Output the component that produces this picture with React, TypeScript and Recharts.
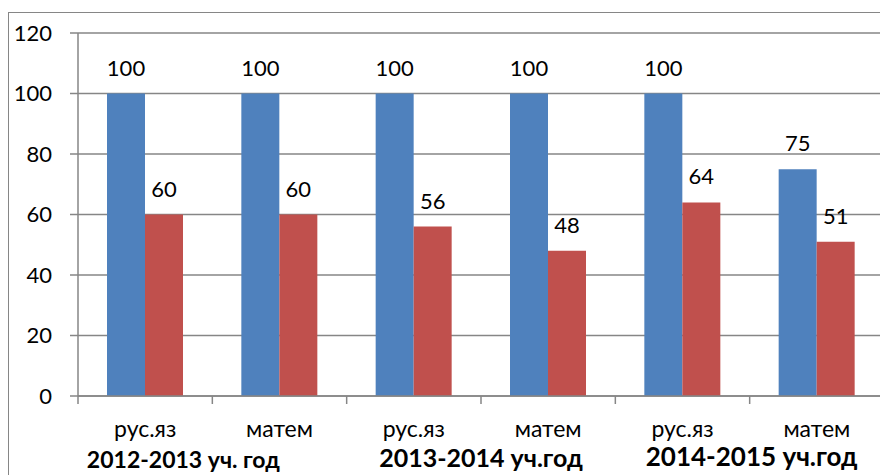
import React from 'react';
import { BarChart, Bar, XAxis, YAxis, CartesianGrid, LabelList } from 'recharts';

const categories = ['рус.яз', 'матем', 'рус.яз', 'матем', 'рус.яз', 'матем'];
const blueValues = [100, 100, 100, 100, 100, 75];
const redValues = [60, 60, 56, 48, 64, 51];
const yearLabels = ['2012-2013 уч. год', '2013-2014 уч.год', '2014-2015 уч.год'];
const yTicks = [0, 20, 40, 60, 80, 100, 120];

const yearStyles = [
  { fontSize: 23, dx: -29, dy: 72 },
  { fontSize: 25, dx: 0, dy: 71 },
  { fontSize: 26, dx: 2, dy: 70 },
];

const data = categories.map((c, i) => ({ name: c, a: blueValues[i], b: redValues[i] }));

const W = 880;
const H = 467;
const M = { top: 25, right: 4, left: 0, bottom: 0 };
const Y_W = 70;
const X_H = 79;
const GRAY = '#868686';
const FONT = 'Lato, "Open Sans", sans-serif';
const band = (W - M.left - M.right - Y_W) / categories.length;

const XTick = (props: any) => {
  const { x, y, payload, index } = props;
  const i = typeof index === 'number' ? index : payload.index;
  const ys = i % 2 === 1 ? yearStyles[(i - 1) / 2] : null;
  return (
    <g>
      <line x1={x - band / 2} x2={x - band / 2} y1={y} y2={y + 8} stroke={GRAY} strokeWidth={1.5} />
      {i === categories.length - 1 && (
        <line x1={x + band / 2} x2={x + band / 2} y1={y} y2={y + 8} stroke={GRAY} strokeWidth={1.5} />
      )}
      <text x={x} y={y + 41} textAnchor="middle" fontSize={23} fill="#000" fontFamily={FONT}>
        {payload.value}
      </text>
      {ys && (
        <text
          x={x - band / 2 + ys.dx}
          y={y + ys.dy}
          textAnchor="middle"
          fontSize={ys.fontSize}
          fontWeight="bold"
          fill="#000"
          fontFamily={FONT}
        >
          {yearLabels[(i - 1) / 2]}
        </text>
      )}
    </g>
  );
};

export default function App() {
  return (
    <div style={{ position: 'relative', width: W, height: H }}>
      <div
        style={{
          position: 'absolute',
          left: 0,
          top: 4,
          width: W,
          height: H - 4,
          borderLeft: `1.5px solid ${GRAY}`,
          borderTop: `1.5px solid ${GRAY}`,
          boxSizing: 'border-box',
        }}
      />
      <div style={{ position: 'absolute', left: 0, top: 0 }}>
        <BarChart width={W} height={H} data={data} margin={M} barGap={0} barSize={38}>
          <CartesianGrid vertical={false} stroke={GRAY} strokeWidth={1.5} />
          <XAxis
            dataKey="name"
            height={X_H}
            axisLine={{ stroke: GRAY, strokeWidth: 1.5 }}
            tickLine={false}
            tickSize={0}
            tickMargin={0}
            interval={0}
            tick={<XTick />}
          />
          <YAxis
            width={Y_W}
            domain={[0, 120]}
            ticks={yTicks}
            interval={0}
            axisLine={{ stroke: GRAY, strokeWidth: 1.5 }}
            tickLine={{ stroke: GRAY, strokeWidth: 1.5 }}
            tickSize={8}
            tickMargin={18}
            tick={{ fontSize: 22, fill: '#000', fontFamily: FONT }}
          />
          <Bar dataKey="a" fill="#4F81BD" isAnimationActive={false}>
            <LabelList dataKey="a" position="top" offset={18} fontSize={22} fill="#000" fontFamily={FONT} />
          </Bar>
          <Bar dataKey="b" fill="#C0504D" isAnimationActive={false}>
            <LabelList dataKey="b" position="top" offset={18} fontSize={22} fill="#000" fontFamily={FONT} />
          </Bar>
        </BarChart>
      </div>
    </div>
  );
}
